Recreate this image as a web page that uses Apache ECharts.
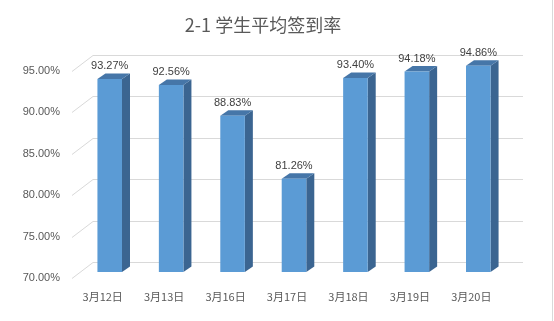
<!DOCTYPE html>
<html>
<head>
<meta charset="utf-8">
<script src="https://cdn.jsdelivr.net/npm/echarts@6/dist/echarts.min.js"></script>
<style>html,body{margin:0;padding:0;background:#fff}#c{width:554px;height:321px}</style>
</head>
<body>
<div id="c"></div>
<script>
var categories = ['3月12日','3月13日','3月16日','3月17日','3月18日','3月19日','3月20日'];
var values = [93.27, 92.56, 88.83, 81.26, 93.40, 94.18, 94.86];
var yTicks = [70, 75, 80, 85, 90, 95];
var titleText = '2-1 学生平均签到率';

var WALL_DX = 21, WALL_DY = -16;   // depth of the 3D floor
var BAR_OX = 7, BAR_OY = -6;       // offset of bar front plane
var BAR_DX = 8, BAR_DY = -5.5;     // bar depth

var chart = echarts.init(document.getElementById('c'), null, {renderer:'canvas'});
var font = '"Liberation Sans","Noto Sans CJK SC",sans-serif';

chart.setOption({
  animation: false,
  backgroundColor: '#fff',
  title: {
    text: titleText, left: 258, top: 11, textAlign: 'center',
    textStyle: {color:'#595959', fontSize: 18, fontWeight: 'normal', fontFamily: '"Noto Sans CJK SC","Liberation Sans",sans-serif'}
  },
  graphic: [{type:'line', shape:{x1:552.5,y1:0,x2:552.5,y2:321}, style:{stroke:'#d9d9d9', lineWidth:1}}],
  grid: {left: 72, right: 52, top: 70.7, bottom: 43},
  xAxis: {
    type: 'category', data: categories,
    axisLine:{show:false}, axisTick:{show:false},
    axisLabel:{color:'#595959', fontSize:11, margin:13, fontFamily: '"Noto Sans CJK SC",sans-serif'}
  },
  yAxis: {
    type: 'value', min: 70, max: 95, interval: 5,
    axisLine:{show:false}, axisTick:{show:false}, splitLine:{show:false},
    axisLabel:{color:'#595959', fontSize:11, margin:12, fontFamily: font,
      formatter: function(v){ return v.toFixed(2) + '%'; }}
  },
  series: [
    {
      type: 'custom', silent: true, z: 1,
      data: yTicks.map(function(t){ return [0, t]; }),
      renderItem: function(params, api){
        var cs = params.coordSys;
        var p = api.coord([0, api.value(1)]);
        var y = Math.round(p[1]) + 0.5;
        var x0 = cs.x;
        return {type:'group', children:[
          {type:'line', shape:{x1:x0, y1:y, x2:x0+WALL_DX, y2:y+WALL_DY}, style:{stroke:'#d9d9d9', lineWidth:1}},
          {type:'line', shape:{x1:x0+WALL_DX, y1:y+WALL_DY, x2:x0+cs.width+WALL_DX, y2:y+WALL_DY}, style:{stroke:'#d9d9d9', lineWidth:1}}
        ]};
      }
    },
    {
      type: 'custom', z: 2,
      data: values.map(function(v, i){ return [i, v]; }),
      renderItem: function(params, api){
        var i = api.value(0), v = api.value(1);
        var top = api.coord([i, v]);
        var bot = api.coord([i, 70]);
        var w = api.size([1, 0])[0] * 0.4;
        var cx = top[0] + BAR_OX;
        var yt = top[1] + BAR_OY, yb = bot[1] + BAR_OY;
        var xl = cx - w/2, xr = cx + w/2;
        return {type:'group', children:[
          {type:'polygon', shape:{points:[[xr,yt],[xr+BAR_DX,yt+BAR_DY],[xr+BAR_DX,yb+BAR_DY],[xr,yb]]}, style:{fill:'#3b6591'}},
          {type:'polygon', shape:{points:[[xl,yt],[xr,yt],[xr+BAR_DX,yt+BAR_DY],[xl+BAR_DX,yt+BAR_DY]]}, style:{fill:'#4676a8'}},
          {type:'rect', shape:{x:xl, y:yt, width:w, height:yb-yt}, style:{fill:'#5b9bd5'}},
          {type:'text', x: cx, y: yt - 13, style:{text: v.toFixed(2) + '%', fill:'#404040', fontSize:11, fontFamily: font, align:'center', verticalAlign:'middle'}}
        ]};
      }
    }
  ]
});
</script>
</body>
</html>
